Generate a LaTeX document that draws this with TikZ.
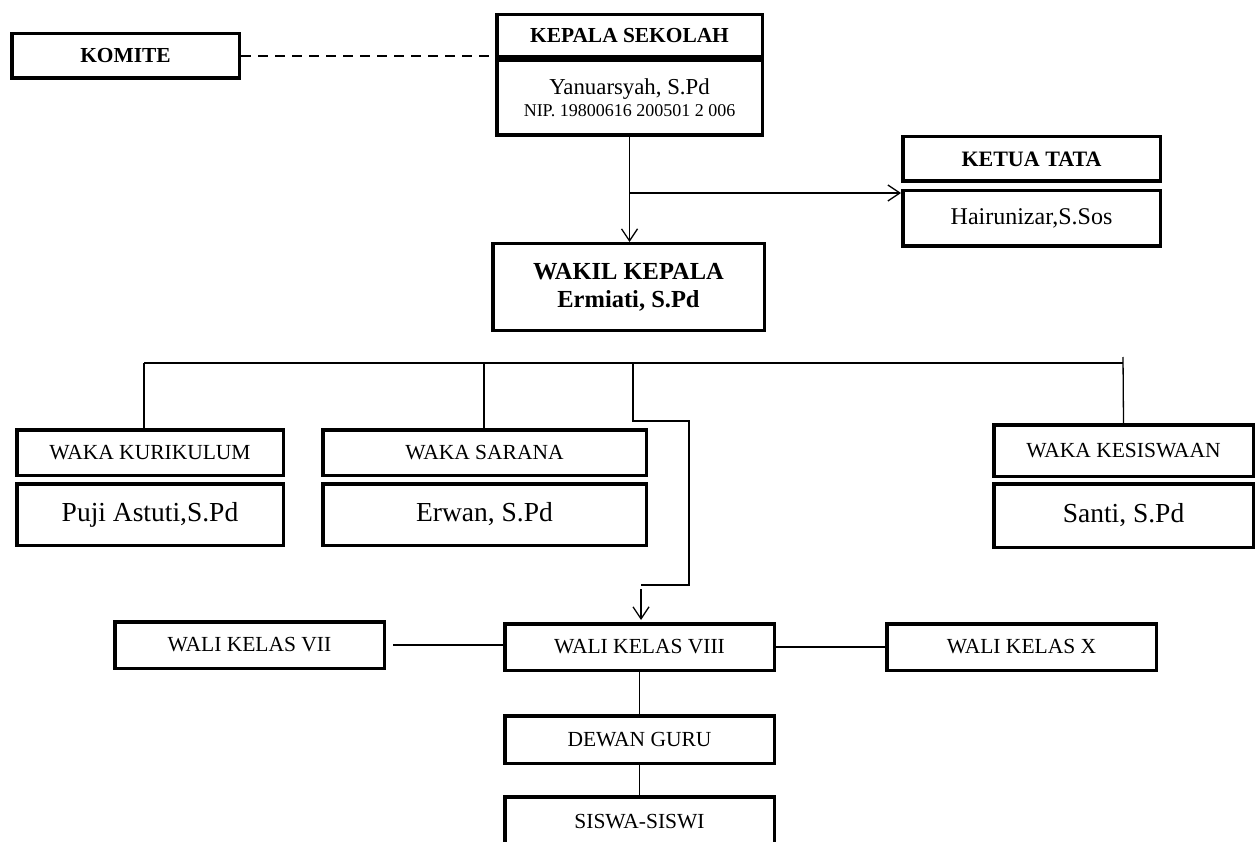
\documentclass[tikz,border=0pt]{standalone}
\usepackage{fontspec}
\setmainfont{Liberation Serif}
\usetikzlibrary{arrows.meta}
\usetikzlibrary{calc}

\begin{document}
\begin{tikzpicture}[x=1pt, y=-1pt, >={Straight Barb[length=12pt,width=16pt]},
box/.style={draw, line width=3.5pt, inner sep=0pt, align=center},
head/.style={box, font=\bfseries\fontsize{21.4}{25}\selectfont},
post/.style={box, font=\fontsize{21.5}{25}\selectfont},
person/.style={box, font=\fontsize{27.5}{32}\selectfont},
link/.style={line width=1.3pt}]

\useasboundingbox (0,0) rectangle (1257,842);

%%%%%% TOP %%%%%%%%%%

\node [head, minimum width=227.5pt, minimum height=44.5pt] (komite) at (125.5,56) {KOMITE};
\node [head, minimum width=265.5pt, minimum height=42.5pt] (kepala) at (629.5,36) {KEPALA SEKOLAH};
\node [box, font=\fontsize{22.8}{26}\selectfont, minimum width=265.5pt, minimum height=74.5pt] (kepalaname) at (629.5,98)
  {Yanuarsyah, S.Pd\\[-4pt]\fontsize{18}{21}\selectfont NIP. 19800616 200501 2 006};

\node [head, font=\bfseries\fontsize{22}{26}\selectfont, minimum width=257.5pt, minimum height=44.5pt] (ketua) at (1031.5,159) {KETUA TATA};
\node [box, font=\fontsize{24}{28}\selectfont, minimum width=257.5pt, minimum height=55.5pt] (hairun) at (1031.5,218.5) {Hairunizar,S.Sos};

\node [box, font=\bfseries\fontsize{24.5}{28}\selectfont, minimum width=271.5pt, minimum height=86.5pt] (wakil) at (628.5,287) {WAKIL KEPALA\\Ermiati, S.Pd};

\draw [link, dash pattern=on 10pt off 7pt, line width=2pt] (komite.east) -- (komite.east -| kepala.south west);
\draw [link, ->] (kepalaname.south) -- (kepalaname.south |- wakil.north);
\coordinate (br) at (629.5,193);
\draw [link, ->] (br) -- (br -| hairun.west);

%%%%%% WAKA %%%%%%%%%%

\node [post, minimum width=266.5pt, minimum height=45.5pt] (wakakur) at (150,452.5) {WAKA KURIKULUM};
\node [person, minimum width=266.5pt, minimum height=61.5pt] (puji) at (150,514.5) {Puji Astuti,S.Pd};
\node [post, minimum width=323.5pt, minimum height=45.5pt] (wakasar) at (484.5,452.5) {WAKA SARANA};
\node [person, minimum width=323.5pt, minimum height=61.5pt] (erwan) at (484.5,514.5) {Erwan, S.Pd};
\node [post, minimum width=259.5pt, minimum height=51.5pt] (wakakes) at (1123.5,450.5) {WAKA KESISWAAN};
\node [person, minimum width=259.5pt, minimum height=63.5pt] (santi) at (1123.5,515.5) {Santi, S.Pd};

\coordinate (busL) at (144,363);
\coordinate (busR) at (1123,363);
\coordinate (busM) at (633,363);
\draw [link] (busL) -- (busR);
\draw [link] (busL) -- (busL |- wakakur.north);
\draw [link] (484,363) -- (484,428);
\draw [link] (1123,357) -- (wakakes.north);

%%%%%% WALI KELAS %%%%%%%%%%

\node [post, minimum width=269.5pt, minimum height=46.5pt] (wali7) at (249.5,645) {WALI KELAS VII};
\node [post, minimum width=269.5pt, minimum height=46.5pt] (wali8) at (639.5,647) {WALI KELAS VIII};
\node [post, minimum width=269.5pt, minimum height=46.5pt] (wali10) at (1021.5,647) {WALI KELAS X};
\node [post, minimum width=269.5pt, minimum height=47.5pt] (dewan) at (639.5,739.5) {DEWAN GURU};
\node [post, minimum width=269.5pt, minimum height=50.5pt] (siswa) at (639.5,822) {SISWA-SISWI};

\draw [link] (busM) -- (633,421) -- (689,421) -- (689,585) -- (641,585);
\draw [link, ->] (641,589) -- (641,620);
\draw [link] (wali7.east) ++(7,0) -- (wali7.east -| wali8.west);
\draw [link] (wali8.east) -- (wali8.east -| wali10.west);
\draw [link] (wali8.south) -- (dewan.north);
\draw [link] (dewan.south) -- (siswa.north);
\end{tikzpicture}
\end{document}
